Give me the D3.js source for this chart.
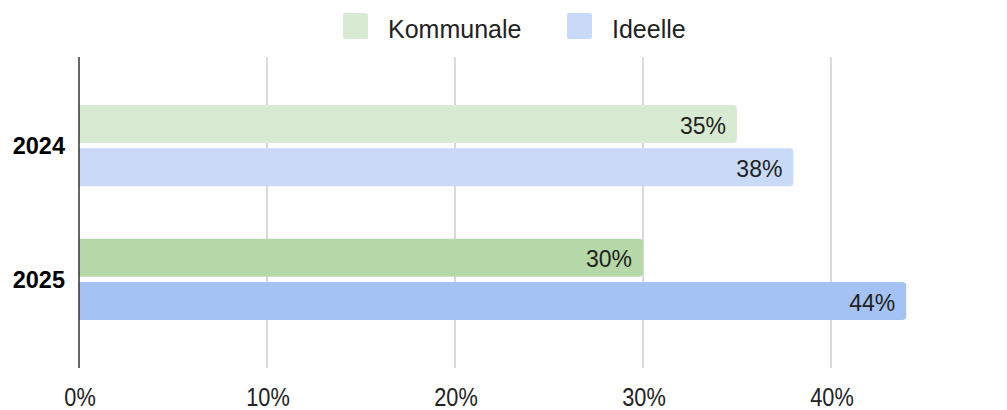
<!DOCTYPE html>
<html>
<head>
<meta charset="utf-8">
<script src="https://cdn.jsdelivr.net/npm/d3@7"></script>
<style>
  body { margin: 0; background: #fff; }
  text { font-family: "Liberation Sans", Arial, sans-serif; }
</style>
</head>
<body>
<div id="chart"></div>
<script>
// data
const years = ["2024", "2025"];
const series = ["Kommunale", "Ideelle"];
const kommunale = [35, 30];
const ideelle = [38, 44];
const xTicks = [0, 10, 20, 30, 40];

// colours: light for 2024, darker for 2025
const colors = {
  Kommunale: ["#d9ead3", "#b6d7a8"],
  Ideelle: ["#c9daf8", "#a4c2f4"]
};
const legendColors = ["#d9ead3", "#c9daf8"];

const W = 1007, H = 410;
const margin = {top: 57, right: 80, bottom: 42, left: 79};

const svg = d3.select("#chart").append("svg")
  .attr("width", W)
  .attr("height", H);

const x = d3.scaleLinear()
  .domain([0, 10])
  .range([margin.left, margin.left + 188]);

const y = d3.scaleBand()
  .domain(years)
  .range([margin.top, H - margin.bottom])
  .paddingInner(0.393)
  .paddingOuter(0.36);

const ySub = d3.scaleBand()
  .domain(series)
  .range([0, y.bandwidth()])
  .paddingInner(0.12);

// gridlines
svg.append("g")
  .selectAll("line")
  .data(xTicks.slice(1))
  .join("line")
  .attr("x1", d => x(d)).attr("x2", d => x(d))
  .attr("y1", margin.top).attr("y2", H - margin.bottom)
  .attr("stroke", "#cccccc")
  .attr("stroke-width", 1.5);

// tick labels (a bit condensed, like the original)
svg.append("g")
  .selectAll("text")
  .data(xTicks)
  .join("text")
  .attr("transform", d => `translate(${x(d) + 1},406) scale(0.87,1)`)
  .attr("text-anchor", "middle")
  .attr("font-size", 25)
  .attr("fill", "#222")
  .text(d => d + "%");

// bars
const rows = years.map((yr, i) => ({
  year: yr, idx: i,
  vals: [{s: "Kommunale", v: kommunale[i]}, {s: "Ideelle", v: ideelle[i]}]
}));

function barPath(x0, x1, y0, h, r) {
  return `M${x0},${y0}H${x1 - r}Q${x1},${y0} ${x1},${y0 + r}V${y0 + h - r}Q${x1},${y0 + h} ${x1 - r},${y0 + h}H${x0}Z`;
}

const groups = svg.append("g")
  .selectAll("g")
  .data(rows)
  .join("g")
  .attr("transform", d => `translate(0,${y(d.year)})`);

groups.each(function (row) {
  const g = d3.select(this);
  g.selectAll("path")
    .data(row.vals)
    .join("path")
    .attr("d", d => barPath(x(0), x(d.v), ySub(d.s), ySub.bandwidth(), 4))
    .attr("fill", d => colors[d.s][row.idx]);
  g.selectAll("text.lbl")
    .data(row.vals)
    .join("text")
    .attr("class", "lbl")
    .attr("x", d => x(d.v) - 11)
    .attr("y", d => ySub(d.s) + ySub.bandwidth() / 2)
    .attr("dy", "0.42em")
    .attr("text-anchor", "end")
    .attr("font-size", 23)
    .attr("fill", "#222")
    .text(d => d.v + "%");
});

// y labels
svg.append("g")
  .selectAll("text")
  .data(years)
  .join("text")
  .attr("x", 65)
  .attr("y", d => y(d) + y.bandwidth() / 2)
  .attr("dy", "0.36em")
  .attr("text-anchor", "end")
  .attr("font-size", 23.5)
  .attr("font-weight", "bold")
  .attr("fill", "#000")
  .text(d => d);

// zero axis line
svg.append("line")
  .attr("x1", x(0)).attr("x2", x(0))
  .attr("y1", margin.top).attr("y2", H - margin.bottom)
  .attr("stroke", "#333")
  .attr("stroke-width", 1.5);

// legend
const legendX = [343, 567];
const legend = svg.append("g")
  .selectAll("g")
  .data(series)
  .join("g")
  .attr("transform", (d, i) => `translate(${legendX[i]},13)`);

legend.append("rect")
  .attr("width", 25).attr("height", 26)
  .attr("rx", 2)
  .attr("fill", (d, i) => legendColors[i]);

legend.append("text")
  .attr("x", 45)
  .attr("y", 13)
  .attr("dy", "0.47em")
  .attr("font-size", 25)
  .attr("fill", "#222")
  .text(d => d);
</script>
</body>
</html>
